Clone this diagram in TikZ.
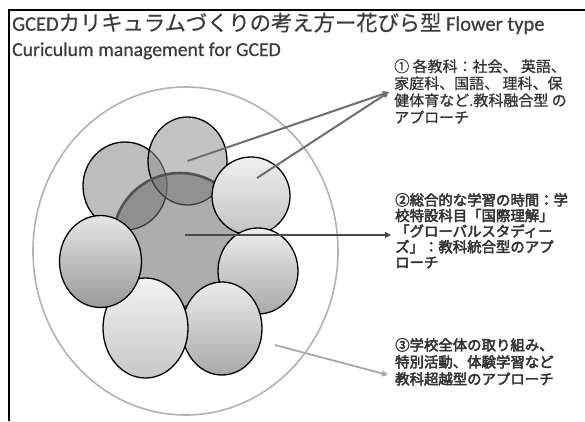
\documentclass[tikz,border=0pt]{standalone}
\usepackage{fontspec}
\setmainfont{Carlito}
\newfontfamily\jp{Noto Sans CJK JP}
\newfontfamily\jpt[FakeBold=0.6]{Noto Sans CJK JP}
\newfontfamily\jpa[FakeBold=0.9]{Noto Sans CJK JP}
\newfontfamily\jpm[FakeBold=3]{Noto Sans CJK JP}
\newfontfamily\lat[FakeBold=0.6]{Carlito}
\usetikzlibrary{shapes.geometric,arrows.meta}
\definecolor{titlec}{HTML}{3C3C3C}
\definecolor{txt}{HTML}{333333}
\definecolor{arrA}{HTML}{6E6E6E}
\definecolor{arrB}{HTML}{4A4A4A}
\definecolor{arrC}{HTML}{A8A8A8}
\begin{document}
\begin{tikzpicture}[x=1pt,y=-1pt,
  petal/.style={ellipse,draw=black,line width=1.3pt,inner sep=0pt},
  conn/.style={line width=2pt,-{Triangle[length=6pt,width=6pt]}},
  blocktext/.style={anchor=north west,inner sep=0pt,align=left,text=txt},
]
\useasboundingbox (0,0) rectangle (585,421);
\fill[white] (0,0) rectangle (585,421);
\draw[line width=1.5pt] (9,421) -- (9,10) -- (585,10);

% title
\node[anchor=base west,inner sep=0pt,text=titlec] (title) at (12,30.7)
  {\lat\fontsize{20.5}{24}\selectfont GCED{\jpt\fontsize{21.3}{24}\selectfont カリキュラムづくりの考え方ー花びら型} Flower type};
\node[anchor=base west,inner sep=0pt,text=titlec] (sub) at (12,56)
  {\lat\fontsize{19.7}{24}\selectfont Curiculum management for GCED};

% outer ring
\node[ellipse,draw=black!30,line width=1.6pt,inner sep=0pt,
      minimum width=305pt,minimum height=328pt] (outer) at (185.5,251) {};

% translucent petals and core
\node[petal,fill=black!26,minimum width=84pt,minimum height=88pt] (p1) at (125,186) {};
\node[petal,fill=black!43,fill opacity=0.54,minimum width=79pt,minimum height=88pt] (p2) at (187.5,161) {};
\node[circle,draw=black!68,line width=2.6pt,fill=black!58,fill opacity=0.56,
      inner sep=0pt,minimum size=134pt] (core) at (180,240) {};

% opaque shaded petals
\node[petal,top color=black!6,bottom color=black!24,minimum width=78pt,minimum height=78pt] (p3) at (251,196) {};
\node[petal,top color=black!7,bottom color=black!34,minimum width=80pt,minimum height=86pt] (p5) at (258,271) {};
\node[petal,top color=black!8,bottom color=black!34,minimum width=80pt,minimum height=93pt] (p7) at (222,328.5) {};
\node[petal,top color=black!5,bottom color=black!22,minimum width=85pt,minimum height=100pt] (p6) at (145.5,328) {};
\node[petal,top color=black!10,bottom color=black!40,minimum width=82pt,minimum height=92pt] (p4) at (100.5,261.5) {};

% texts
\node[blocktext,font=\jpa\fontsize{15}{17}\selectfont] (t1) at (394,59)
  {① 各教科：社会、 英語、\\家庭科、国語、 理科、保\\健体育など.教科融合型 の\\アプローチ};
\node[blocktext,font=\jpm\fontsize{14.4}{15.6}\selectfont] (t2) at (395,193)
  {②総合的な学習の時間：学\\校特設科目「国際理解」\\「グローバルスタディー\\ズ」：教科統合型のアプ\\ローチ};
\node[blocktext,font=\jpm\fontsize{14.4}{17}\selectfont] (t3) at (395,338)
  {③学校全体の取り組み、\\特別活動、体験学習など\\教科超越型のアプローチ};

% connectors
\coordinate (e1) at (389,92);
\coordinate (s1b) at (257,178);
\coordinate (s2) at (185,235);
\coordinate (e2) at (391,235);
\coordinate (s3) at (275,345);
\coordinate (e3) at (388,375);
\draw[conn,draw=arrA,fill=arrA] (p2.center) -- (e1);
\draw[conn,draw=arrA,fill=arrA] (s1b) -- (e1);
\draw[conn,draw=arrB,fill=arrB] (s2) -- (e2);
\draw[conn,draw=arrC,fill=arrC,line width=1.8pt] (s3) -- (e3);
\end{tikzpicture}
\end{document}
